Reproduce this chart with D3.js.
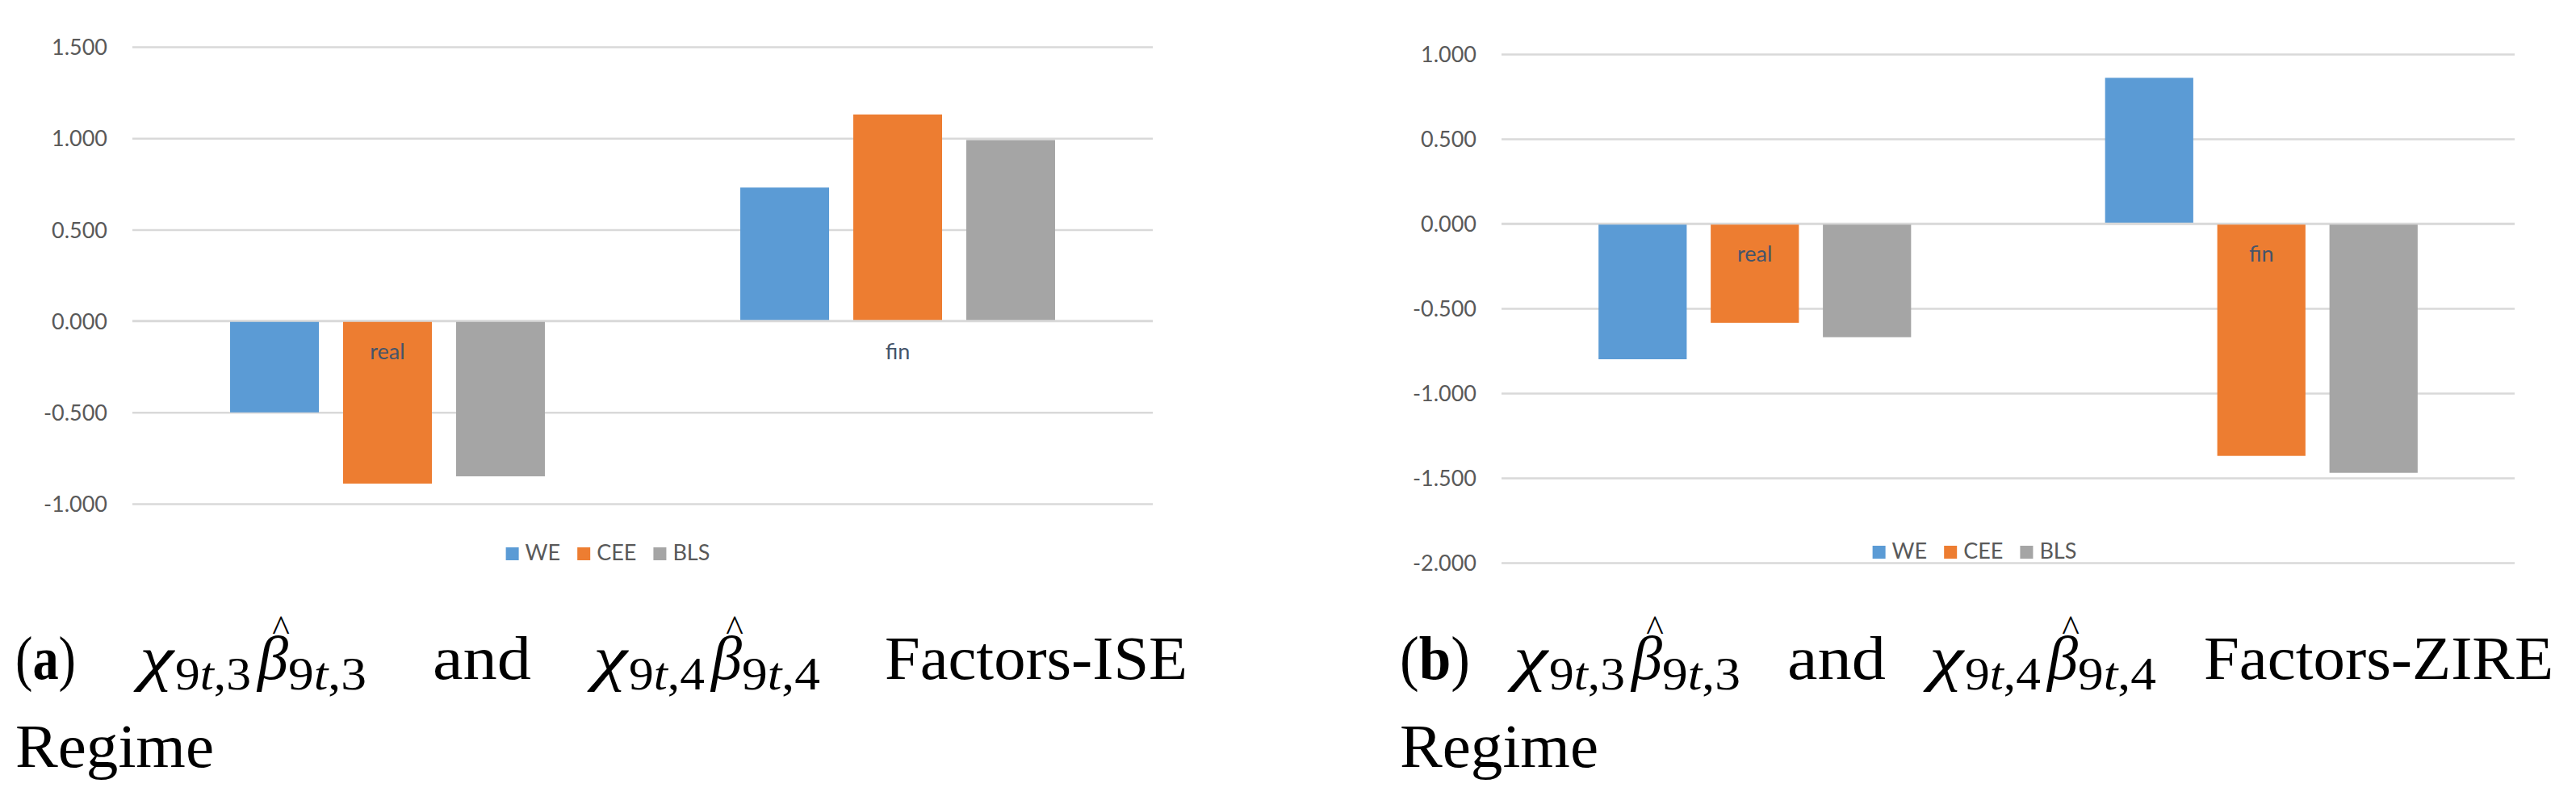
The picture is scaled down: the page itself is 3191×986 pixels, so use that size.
<!DOCTYPE html>
<html><head><meta charset="utf-8">
<script src="https://cdn.jsdelivr.net/npm/d3@7"></script>
<style>body{margin:0;background:#fff}</style></head>
<body><svg id="c" width="3191" height="986"></svg>
<script>
// ---------- data ----------
const categories = ["real", "fin"];
const seriesNames = ["WE", "CEE", "BLS"];
const seriesColors = ["#5B9BD5", "#ED7D31", "#A5A5A5"];

const iseWE  = [-0.50, 0.73];
const iseCEE = [-0.89, 1.13];
const iseBLS = [-0.85, 0.99];

const zireWE  = [-0.80, 0.86];
const zireCEE = [-0.585, -1.37];
const zireBLS = [-0.67, -1.47];

const iseTicks  = [-1.0, -0.5, 0.0, 0.5, 1.0, 1.5];
const zireTicks = [-2.0, -1.5, -1.0, -0.5, 0.0, 0.5, 1.0];

const captionA = {label: "a", tail: "Factors-ISE"};
const captionB = {label: "b", tail: "Factors-ZIRE"};

// ---------- drawing ----------
const svg = d3.select("#c");
svg.append("rect").attr("width", 3191).attr("height", 986).attr("fill", "#fff");

const FONT = "Lato, 'Open Sans', sans-serif";

function drawChart(cfg) {
  const g = svg.append("g");
  const x0 = d3.scaleBand().domain(categories).range([cfg.left, cfg.right])
    .paddingInner(0.383).paddingOuter(0.1915);
  const x1 = d3.scaleBand().domain(seriesNames).range([0, x0.bandwidth()])
    .paddingInner(0.214).paddingOuter(0);
  const y = d3.scaleLinear().domain(cfg.domain).range([cfg.bottom, cfg.top]);

  const axis = d3.axisLeft(y).tickValues(cfg.ticks)
    .tickSize(-(cfg.right - cfg.left)).tickPadding(31)
    .tickFormat(d => d.toFixed(3));
  const ax = g.append("g").attr("transform", `translate(${cfg.left},0)`).call(axis);
  ax.select(".domain").remove();
  ax.selectAll(".tick line").attr("stroke", "#D9D9D9").attr("stroke-width", 2.5);
  ax.selectAll(".tick text").attr("fill", "#595959").attr("font-family", FONT)
    .attr("font-size", 27).attr("dy", "0.36em");

  const data = [];
  categories.forEach((c, ci) => {
    seriesNames.forEach((s, si) => data.push({c, s, si, v: cfg.values[si][ci]}));
  });
  g.append("g").selectAll("rect").data(data).join("rect")
    .attr("x", d => x0(d.c) + x1(d.s))
    .attr("width", x1.bandwidth())
    .attr("y", d => Math.min(y(d.v), y(0)))
    .attr("height", d => Math.abs(y(d.v) - y(0)))
    .attr("fill", d => seriesColors[d.si]);

  // zero line on top
  g.append("line").attr("x1", cfg.left).attr("x2", cfg.right)
    .attr("y1", y(0)).attr("y2", y(0))
    .attr("stroke", "#D9D9D9").attr("stroke-width", 2.5);

  // category labels
  g.append("g").selectAll("text").data(categories).join("text")
    .attr("x", d => x0(d) + x0.bandwidth() / 2)
    .attr("y", y(0) + 47)
    .attr("text-anchor", "middle")
    .attr("font-family", FONT).attr("font-size", 27)
    .attr("fill", "#44546A").text(d => d);

  // legend
  const lg = g.append("g");
  let cx = 0;
  seriesNames.forEach((s, i) => {
    const it = lg.append("g");
    it.append("rect").attr("x", 0).attr("y", -16).attr("width", 16).attr("height", 16)
      .attr("fill", seriesColors[i]);
    const t = it.append("text").attr("x", 24).attr("y", 0)
      .attr("font-family", FONT).attr("font-size", 27).attr("fill", "#595959").text(s);
    const w = 24 + t.node().getComputedTextLength();
    it.attr("transform", `translate(${cx},0)`);
    cx += w + 21;
  });
  const total = cx - 21;
  lg.attr("transform", `translate(${cfg.legendCenter - total / 2},${cfg.legendBase})`);
}

drawChart({
  left: 164, right: 1428, top: 58, bottom: 624,
  domain: [-1.0, 1.5], ticks: iseTicks,
  values: [iseWE, iseCEE, iseBLS],
  legendCenter: 753, legendBase: 694
});
drawChart({
  left: 1860, right: 3115, top: 67, bottom: 697,
  domain: [-2.0, 1.0], ticks: zireTicks,
  values: [zireWE, zireCEE, zireBLS],
  legendCenter: 2446, legendBase: 692
});

// ---------- captions ----------
const SERIF = "'Liberation Serif', 'DejaVu Serif', serif";
const BASE1 = 841, BASE2 = 950;

function txt(x, y, s, opts = {}) {
  const t = svg.append("text").attr("x", x).attr("y", y)
    .attr("font-family", SERIF).attr("font-size", opts.size || 76)
    .attr("fill", "#000");
  if (opts.italic) t.attr("font-style", "italic");
  if (opts.anchor) t.attr("text-anchor", opts.anchor);
  if (opts.len) t.attr("textLength", opts.len).attr("lengthAdjust", "spacingAndGlyphs");
  if (typeof s === "string") t.text(s); else s(t);
  return t;
}

function sub(t, n) {
  t.append("tspan").text("9");
  t.append("tspan").attr("font-style", "italic").text("t");
  t.append("tspan").text("," + n);
}

function mathGroup(gx, n) {
  txt(gx, BASE1, "χ", {italic: true, len: 42});
  txt(gx + 44, BASE1 + 13, t => sub(t, n), {size: 57, len: 94});
  txt(gx + 146, BASE1, "β", {italic: true, len: 38});
  txt(gx + 175, BASE1 - 47, "^", {size: 46, anchor: "middle"});
  txt(gx + 184, BASE1 + 13, t => sub(t, n), {size: 57, len: 97});
}

function caption(cfg, c) {
  txt(cfg.x0, BASE1, t => {
    t.append("tspan").text("(");
    t.append("tspan").attr("font-weight", "bold").text(c.label);
    t.append("tspan").text(")");
  }, {len: cfg.labW});
  mathGroup(cfg.g1, 3);
  txt(cfg.andX, BASE1, "and", {len: 122});
  mathGroup(cfg.g2, 4);
  txt(cfg.tailX, BASE1, c.tail, {len: cfg.tailW});
  txt(cfg.x0, BASE2, "Regime", {len: 246});
}

caption({x0: 19, labW: 75, g1: 173, andX: 536, g2: 735, tailX: 1096, tailW: 375}, captionA);
caption({x0: 1734, labW: 87, g1: 1875, andX: 2214, g2: 2390, tailX: 2730, tailW: 433}, captionB);
</script>
</body></html>
